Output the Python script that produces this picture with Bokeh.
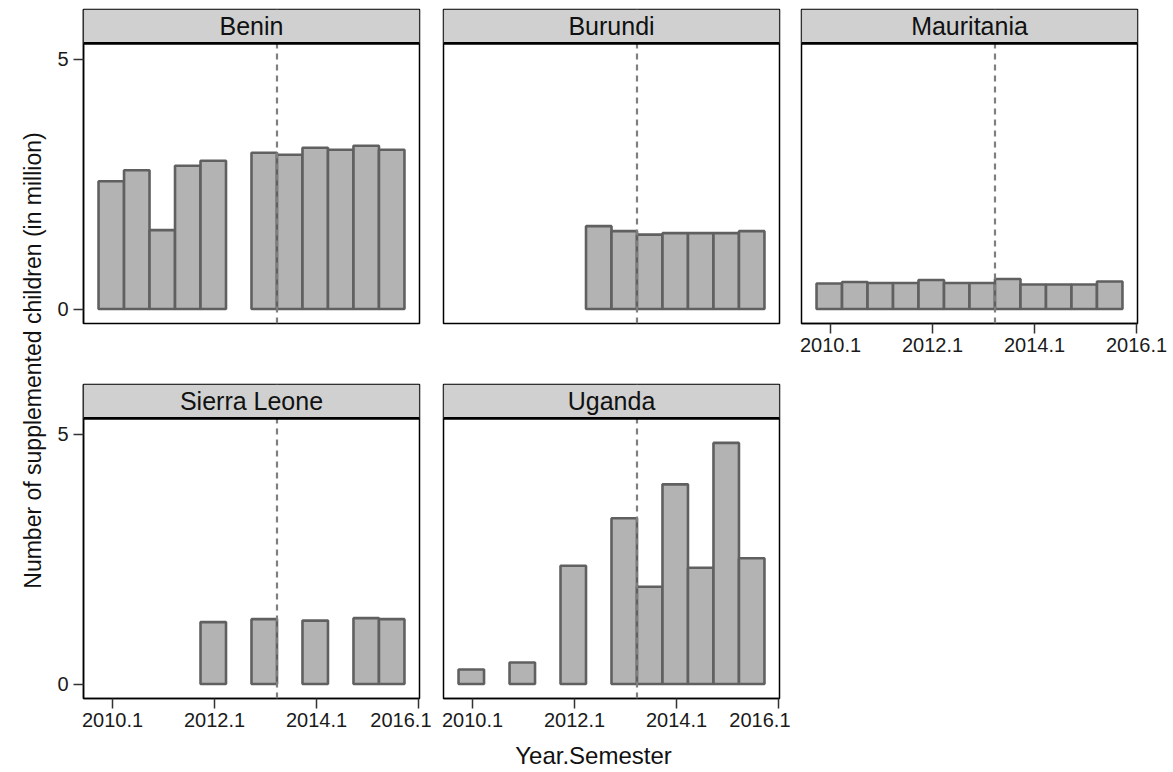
import math

from bokeh.embed import file_html
from bokeh.layouts import column, row
from bokeh.models import (BoxAnnotation, ColumnDataSource, FixedTicker, Label,
                          Range1d, Span)
from bokeh.plotting import figure
from bokeh.resources import INLINE

# ---------------------------------------------------------------------------
# Data: supplemented children (millions) per semester, 2010.1 ... 2015.2
# (None = no campaign reported in that semester)
# ---------------------------------------------------------------------------
semesters = ["2010.1", "2010.2", "2011.1", "2011.2", "2012.1", "2012.2",
             "2013.1", "2013.2", "2014.1", "2014.2", "2015.1", "2015.2"]

benin = [2.56, 2.78, 1.58, 2.87, 2.97, None,
         3.13, 3.09, 3.23, 3.19, 3.27, 3.19]
burundi = [None, None, None, None, None, 1.66,
           1.56, 1.49, 1.52, 1.52, 1.52, 1.56]
mauritania = [0.51, 0.54, 0.52, 0.52, 0.58, 0.52,
              0.52, 0.60, 0.49, 0.49, 0.49, 0.55]
sierra_leone = [None, None, None, None, 1.24, None,
                1.30, None, 1.27, None, 1.32, 1.30]
uganda = [0.29, None, 0.43, None, 2.37, None,
          3.32, 1.95, 4.00, 2.33, 4.83, 2.52]

countries = ["Benin", "Burundi", "Mauritania", "Sierra Leone", "Uganda"]
series = [benin, burundi, mauritania, sierra_leone, uganda]

x_tick_positions = [0, 4, 8, 12]
x_tick_labels = ["2010.1", "2012.1", "2014.1", "2016.1"]
y_tick_values = [0, 5]

# vertical reference line, in semester-index units (between 2013.1 and 2013.2)
ref_line_pos = 6.45

# ---------------------------------------------------------------------------
# Styling / geometry
# ---------------------------------------------------------------------------
FONT = "Liberation Sans"
FRAME_W, FRAME_H = 336, 314
X_RANGE = (-1.14, 12.04)
Y_RANGE = (-0.29, 6.0)
STRIP_Y = 5.32          # bottom edge of the title strip (data units)
BAR_SHIFT = -0.05
BAR_FILL = "#b3b3b3"
BAR_LINE = "#606060"


def panel(name, values, show_x, show_y, bl, br, bt, bb):
    p = figure(frame_width=FRAME_W, frame_height=FRAME_H,
               x_range=Range1d(*X_RANGE), y_range=Range1d(*Y_RANGE),
               x_axis_location="below" if show_x else None,
               y_axis_location="left" if show_y else None,
               min_border_left=bl, min_border_right=br,
               min_border_top=bt, min_border_bottom=bb,
               output_backend="svg", toolbar_location=None)
    p.grid.visible = False
    p.outline_line_color = "black"
    p.outline_line_width = 1.5
    p.background_fill_color = "white"
    p.border_fill_color = "white"

    idx = [i + BAR_SHIFT for i, v in enumerate(values) if v is not None]
    tops = [v for v in values if v is not None]
    labels = [semesters[i] for i, v in enumerate(values) if v is not None]
    src = ColumnDataSource(dict(x=idx, top=tops, semester=labels))
    p.vbar(x="x", top="top", bottom=0, width=1.0, source=src,
           fill_color=BAR_FILL, line_color=BAR_LINE, line_width=2.6)

    p.add_layout(Span(location=ref_line_pos, dimension="height",
                      line_color="#7f7f7f", line_width=2.2,
                      line_dash="6 5"))

    # title strip
    p.add_layout(BoxAnnotation(bottom=STRIP_Y, fill_color="#d0d0d0",
                               fill_alpha=1.0, line_color="#303030",
                               line_width=1.2))
    p.add_layout(Span(location=STRIP_Y, dimension="width",
                      line_color="black", line_width=2.7))
    p.add_layout(Label(x=(X_RANGE[0] + X_RANGE[1]) / 2,
                       y=(STRIP_Y + Y_RANGE[1]) / 2, text=name,
                       text_align="center", text_baseline="middle",
                       text_font=FONT, text_font_size="25px",
                       text_color="#111111"))

    for ax in p.axis:
        ax.axis_line_color = "black"
        ax.axis_line_width = 1.5
        ax.major_tick_line_color = "#333333"
        ax.major_tick_line_width = 1.5
        ax.major_tick_out = 10
        ax.major_tick_in = 0
        ax.minor_tick_out = 0
        ax.minor_tick_in = 0
        ax.major_label_text_font = FONT
        ax.major_label_text_font_size = "20px"
        ax.major_label_text_color = "#1a1a1a"

    if show_x:
        p.xaxis.ticker = FixedTicker(ticks=x_tick_positions)
        p.xaxis.major_label_overrides = dict(zip(x_tick_positions, x_tick_labels))
        p.xaxis.major_label_standoff = 4
    if show_y:
        p.yaxis.ticker = FixedTicker(ticks=y_tick_values)
        p.yaxis.major_label_standoff = 5
    return p


f_benin = panel(countries[0], series[0], False, True, 35, 12, 9, 47)
f_burundi = panel(countries[1], series[1], False, False, 12, 11, 9, 47)
f_maur = panel(countries[2], series[2], True, False, 11, 30, 9, 47)
f_sl = panel(countries[3], series[3], True, True, 35, 12, 14, 42)
f_uga = panel(countries[4], series[4], True, False, 12, 11, 14, 42)

# shared y-axis title
grid_h = (9 + FRAME_H + 47) + (14 + FRAME_H + 42)
ytitle = figure(width=48, height=grid_h, x_range=Range1d(0, 48),
                y_range=Range1d(0, grid_h), output_backend="svg",
                toolbar_location=None, x_axis_location=None,
                y_axis_location=None, min_border=0)
ytitle.grid.visible = False
ytitle.outline_line_color = None
ytitle.add_layout(Label(x=32, y=grid_h - 360,
                        text="Number of supplemented children (in million)",
                        angle=math.pi / 2, text_align="center",
                        text_baseline="middle", text_font=FONT,
                        text_font_size="23px", text_color="#111111"))

# shared x-axis title
total_w = 48 + (35 + FRAME_W + 12) + (12 + FRAME_W + 11) + (11 + FRAME_W + 30)
xtitle_h = 30
xtitle = figure(width=total_w, height=xtitle_h, x_range=Range1d(0, total_w),
                y_range=Range1d(0, xtitle_h), output_backend="svg",
                toolbar_location=None, x_axis_location=None,
                y_axis_location=None, min_border=0)
xtitle.grid.visible = False
xtitle.outline_line_color = None
xtitle.add_layout(Label(x=593, y=xtitle_h / 2, text="Year.Semester",
                        text_align="center", text_baseline="middle",
                        text_font=FONT, text_font_size="24px",
                        text_color="#111111"))

grid = column(row(f_benin, f_burundi, f_maur), row(f_sl, f_uga))
p = column(row(ytitle, grid), xtitle)

open("out.html", "w").write(file_html(p, INLINE))
